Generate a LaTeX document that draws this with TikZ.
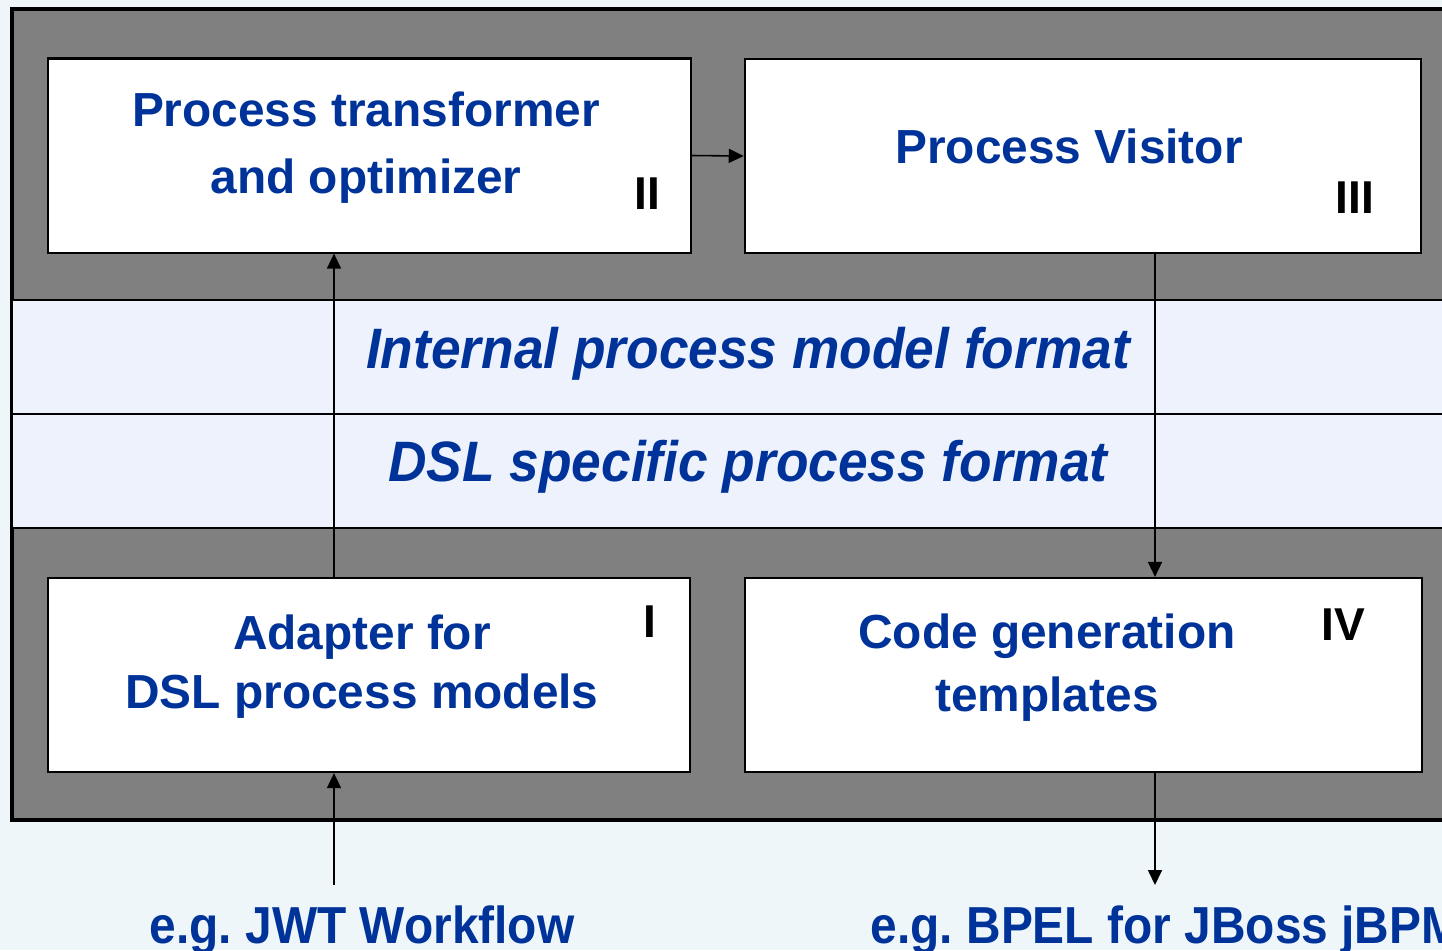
\documentclass[tikz,border=0pt]{standalone}
\usepackage{fontspec}
\setmainfont{Liberation Sans}
\newfontfamily\bandfont[FakeStretch=0.935]{Liberation Sans}
\newfontfamily\outfont[FakeStretch=0.92]{Liberation Sans}
\usetikzlibrary{arrows.meta}
\frenchspacing

\definecolor{dslblue}{RGB}{0,51,153}
\definecolor{framegray}{RGB}{128,128,128}
\definecolor{bandfill}{RGB}{238,242,253}
\definecolor{slidebg}{RGB}{238,246,250}

\tikzset{
  stagebox/.style={draw=black, line width=0.6pt, fill=white, minimum height=1.94cm, inner sep=0pt},
  boxtext/.style={text=dslblue, font=\fontsize{13.6}{#1}\selectfont\bfseries, align=center, inner sep=0pt},
  boxtext/.default=19,
  bandtext/.style={text=dslblue, font=\bandfont\fontsize{16.2}{19}\selectfont\bfseries\itshape, inner sep=0pt},
  numtext/.style={text=black, font=\fontsize{13.1}{16}\selectfont\bfseries, inner sep=0pt},
  outtext/.style={text=dslblue, font=\outfont\fontsize{14.8}{18}\selectfont\bfseries, inner sep=0pt},
  flow/.style={line width=0.45pt, -{Triangle[length=0.15cm,width=0.14cm]}}
}

\begin{document}
\begin{tikzpicture}[x=0.01cm, y=-0.01cm]
		%%%%% START %%%%%
		\useasboundingbox (0,0) rectangle (1442,950);
		\clip (0,0) rectangle (1442,950);
		\fill[slidebg] (0,0) rectangle (1442,950);
		
		% frame and bands
		\draw[fill=framegray, line width=1.1pt] (12,9) rectangle (1500,820);
		\draw[fill=bandfill, line width=0.6pt] (12,300) rectangle (1500,414);
		\draw[fill=bandfill, line width=0.6pt] (12,414) rectangle (1500,528);
		
		\node[bandtext, anchor=base] (intfmt) at (748,368) {Internal process model format};
		\node[bandtext, anchor=base] (dslfmt) at (748,481) {DSL specific process format};
		
		% stage boxes
		\node[stagebox, minimum width=6.43cm] (trans) at (369.5,155.5) {};
		\node[stagebox, minimum width=6.76cm] (visit) at (1083,156) {};
		\node[stagebox, minimum width=6.42cm] (adapt) at (369,675) {};
		\node[stagebox, minimum width=6.77cm] (gen) at (1083.5,675) {};
		
		\node[boxtext=19] (transtxt) at (366,148) {Process transformer\\and optimizer};
		\node[boxtext, anchor=base] (visittxt) at (1069,163) {Process Visitor};
		\node[boxtext=16.8] (adapttxt) at (362,666.5) {Adapter for\\DSL process models};
		\node[boxtext=17.9] (gentxt) at (1047,668) {Code generation\\templates};
		
		\node[numtext, anchor=base] (num2) at (647,209) {II};
		\node[numtext, anchor=base] (num3) at (1355,213) {III};
		\node[numtext, anchor=base] (num1) at (650,637) {I};
		\node[numtext, anchor=base] (num4) at (1343,640) {IV};
		
		% in and out
		\coordinate (jwtin) at (334,885);
		\coordinate (bpelout) at (1155,885);
		\node[outtext, anchor=base] (jwt) at (362,943) {e.g. JWT Workflow};
		\node[outtext, anchor=base west] (bpel) at (870,943) {e.g. BPEL for JBoss jBPM};
		
		\draw[flow] (trans.east) -- (visit.west);
		\draw[flow] (jwtin) -- (jwtin |- adapt.south);
		\draw[flow] (jwtin |- adapt.north) -- (jwtin |- trans.south);
		\draw[flow] (bpelout |- visit.south) -- (bpelout |- gen.north);
		\draw[flow] (bpelout |- gen.south) -- (bpelout);
		%%%%% END %%%%%
\end{tikzpicture}
\end{document}
